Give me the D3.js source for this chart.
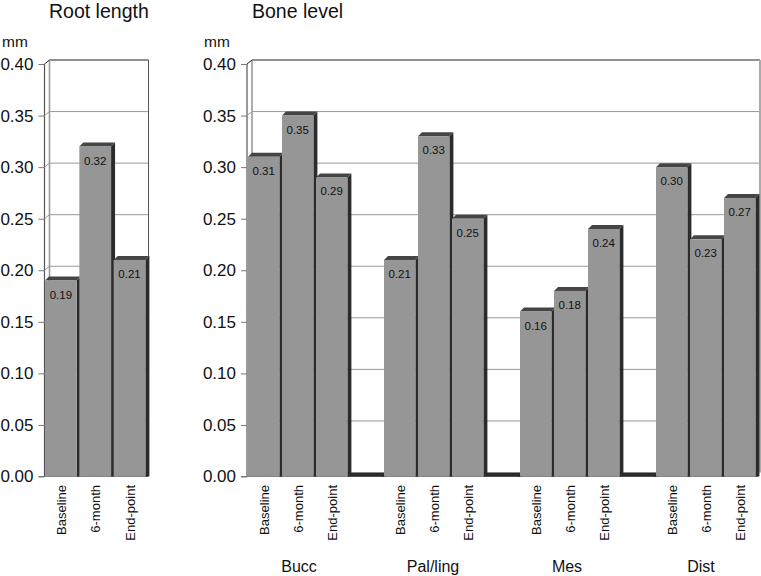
<!DOCTYPE html>
<html><head><meta charset="utf-8">
<script src="https://cdn.jsdelivr.net/npm/d3@7"></script>
<style>html,body{margin:0;padding:0;background:#fff}svg{display:block}text{font-family:"Liberation Sans",Arial,sans-serif;fill:#111}</style>
</head><body><div id="c"></div>
<script>
const rootCategories = ["Baseline","6-month","End-point"];
const rootValues = [0.19,0.32,0.21];
const boneCategories = ["Baseline","6-month","End-point","","Baseline","6-month","End-point","","Baseline","6-month","End-point","","Baseline","6-month","End-point"];
const boneValues = [0.31,0.35,0.29,0,0.21,0.33,0.25,0,0.16,0.18,0.24,0,0.30,0.23,0.27];
const yTicks = [0,0.05,0.10,0.15,0.20,0.25,0.30,0.35,0.40];
const groupLabels = ["Bucc","Pal/ling","Mes","Dist"];
const titles = ["Root length","Bone level"];

const W=761,H=576,DX=4,DY=4,SIDE=2.6;
const svg=d3.select("#c").append("svg").attr("width",W).attr("height",H);
const y=d3.scaleLinear().domain([0,0.4]).range([476.5,64]);

function panel(x0,barStart,x1,wallRight,vals,cats,title,titleX,mmX,edgeColor,edgeWidth){
  const ids=d3.range(vals.length);
  const x=d3.scaleBand().domain(ids).range([barStart,x1]);
  const fw=x.bandwidth()-SIDE;
  const g=svg.append("g");
  const wx=x0+5;
  g.selectAll("line.grid").data(yTicks.slice(1)).join("line").attr("class","grid")
    .attr("x1",wx).attr("x2",wallRight).attr("y1",d=>y(d)-DY).attr("y2",d=>y(d)-DY)
    .attr("stroke",d=>d===0.4?"#222":"#999").attr("stroke-width",1);
  g.append("line").attr("x1",wallRight).attr("x2",wallRight).attr("y1",y(.4)-DY).attr("y2",y(0)-DY)
    .attr("stroke",edgeColor).attr("stroke-width",edgeWidth);
  g.append("line").attr("x1",x0).attr("x2",x0).attr("y1",y(0)).attr("y2",y(.4)).attr("stroke","#555").attr("stroke-width",1.2);
  g.append("line").attr("x1",wx).attr("x2",wx).attr("y1",y(0)-DY).attr("y2",y(.4)-DY).attr("stroke","#999").attr("stroke-width",1.6);
  g.selectAll("line.wt").data(yTicks).join("line").attr("class","wt")
    .attr("x1",x0).attr("x2",wx).attr("y1",d=>y(d)).attr("y2",d=>y(d)-DY).attr("stroke",d=>d===0.4?"#222":"#999");
  g.append("path").attr("d",`M${x0},${y(0)}L${wx},${y(0)-DY}L${wallRight},${y(0)-DY}L${x1},${y(0)}Z`).attr("fill","#ccc");
  const ax=d3.axisLeft(y).tickValues(yTicks).tickFormat(d3.format(".2f")).tickSize(6).tickPadding(5);
  const ag=g.append("g").attr("transform",`translate(${x0},0)`).call(ax);
  ag.select(".domain").remove();
  ag.selectAll(".tick line").attr("stroke","#777");
  ag.selectAll(".tick text").attr("font-size",17).attr("font-family","Liberation Sans").attr("fill","#111");
  g.append("line").attr("x1",x0-6).attr("x2",x1).attr("y1",y(0)).attr("y2",y(0)).attr("stroke","#777");
  const b=g.selectAll("g.bar").data(ids).join("g").attr("class","bar");
  b.append("path").attr("fill","#2b2b2b").attr("d",id=>{
    const xr=x(id)+fw, t=y(vals[id]), b0=y(0);
    return `M${xr},${t}L${xr+DX},${t-DY}L${xr+DX},${b0}L${xr},${b0}Z`;});
  b.append("path").attr("fill",id=>vals[id]>0?"#454545":"#2b2b2b").attr("d",id=>{
    const xl=x(id), xr=x(id)+fw, t=y(vals[id]);
    return vals[id]>0
      ? `M${xl},${t}L${xl+DX},${t-DY}L${xr+DX},${t-DY}L${xr},${t}Z`
      : `M${xl},${t}L${xl},${t-DY}L${xr+DX},${t-DY}L${xr+DX},${t}Z`;});
  b.append("rect").attr("x",id=>x(id)).attr("width",fw)
    .attr("y",id=>y(vals[id])).attr("height",id=>y(0)-y(vals[id])).attr("fill","#969696");
  b.filter(id=>vals[id]>0).append("text").attr("text-anchor","middle").attr("font-size",11.5)
    .attr("x",id=>x(id)+fw/2).attr("y",id=>y(vals[id])+18)
    .text(id=>d3.format(".2f")(vals[id]));
  g.selectAll("text.cat").data(ids.filter(id=>vals[id]>0)).join("text").attr("class","cat")
    .attr("font-size",13).attr("text-anchor","end")
    .attr("transform",id=>`translate(${x(id)+fw/2+5},485) rotate(-90)`)
    .text(id=>cats[id]);
  svg.append("text").attr("x",titleX).attr("y",18).attr("font-size",19.5).text(title);
  svg.append("text").attr("x",mmX).attr("y",47).attr("font-size",15.5).text("mm");
}
panel(44.5,45,148,148.5,rootValues,rootCategories,titles[0],49,2,"#555",1);
panel(247,248,758,760,boneValues,boneCategories,titles[1],252,204,"#aaa",2);
const gx=d3.scalePoint().domain(groupLabels).range([299,701]);
svg.selectAll("text.group").data(groupLabels).join("text").attr("class","group")
  .attr("x",d=>gx(d)).attr("y",572).attr("text-anchor","middle").attr("font-size",16).text(d=>d);
</script></body></html>
